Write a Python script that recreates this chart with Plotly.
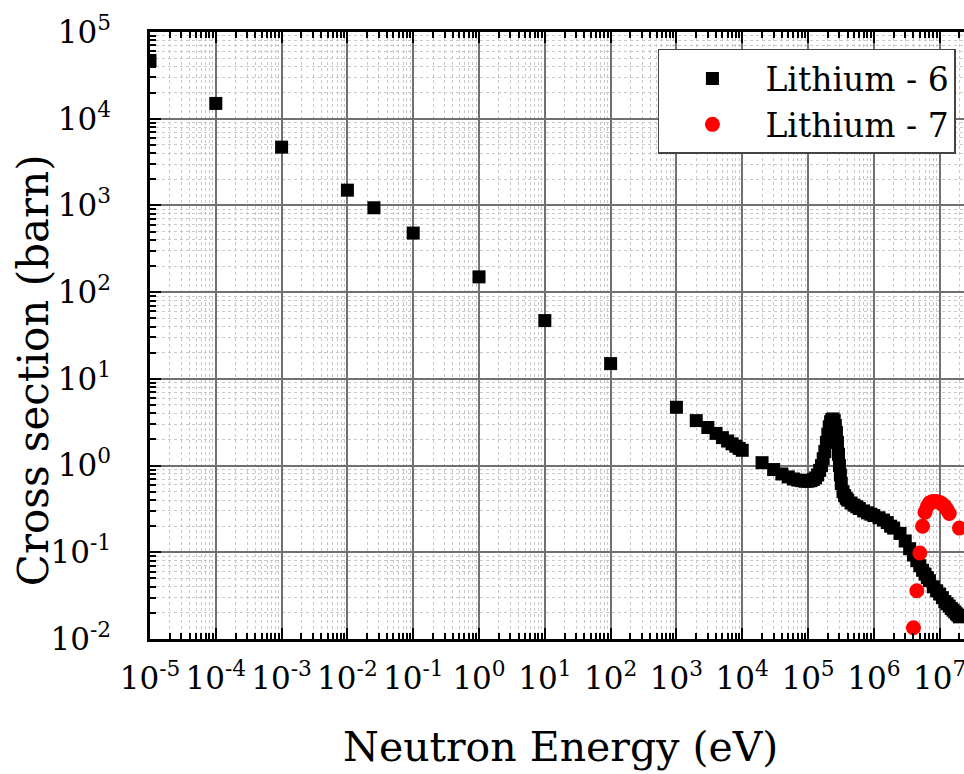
import plotly.graph_objects as go

# Neutron energies (eV) and cross sections (barn)
li6_energy = [
    1e-5, 1e-4, 1e-3, 1e-2, 0.0253, 0.1, 1, 10, 100,
    1e3, 2e3, 3e3, 4e3, 5e3, 6e3, 7e3, 8e3, 9e3, 1e4,
    2e4, 3e4, 4e4, 5e4, 6e4, 7e4, 8e4, 9e4, 1e5,
    1.1e5, 1.2e5, 1.3e5, 1.4e5, 1.5e5, 1.6e5, 1.7e5, 1.8e5, 1.9e5, 2.0e5,
    2.1e5, 2.2e5, 2.3e5, 2.4e5, 2.5e5, 2.6e5, 2.7e5, 2.8e5, 2.9e5, 3.0e5,
    3.1e5, 3.2e5, 3.4e5, 3.6e5, 3.8e5, 4e5, 4.5e5, 5e5, 5.5e5, 6e5, 7e5, 8e5, 9e5, 1e6,
    1.2e6, 1.4e6, 1.6e6, 1.8e6, 2e6, 2.5e6, 3e6, 3.5e6, 4e6, 4.5e6, 5e6, 5.5e6, 6e6,
    6.5e6, 7e6, 8e6, 9e6, 1e7, 1.1e7, 1.2e7, 1.3e7, 1.4e7, 1.5e7, 1.6e7, 1.7e7,
    1.8e7, 1.9e7, 2e7,
]
li6_sigma = [
    47000, 15000, 4700, 1500, 940, 480, 150, 47, 15,
    4.7, 3.3, 2.75, 2.35, 2.1, 1.92, 1.78, 1.67, 1.58, 1.5,
    1.08, 0.9, 0.8, 0.74, 0.7, 0.68, 0.67, 0.66, 0.66,
    0.67, 0.69, 0.72, 0.78, 0.88, 1.0, 1.2, 1.45, 1.85, 2.3,
    2.8, 3.2, 3.4, 3.45, 3.3, 2.9, 2.4, 1.85, 1.35, 1.0,
    0.78, 0.62, 0.5, 0.45, 0.42, 0.4, 0.37, 0.35, 0.335, 0.32, 0.3, 0.285, 0.275, 0.265,
    0.25, 0.235, 0.22, 0.2, 0.19, 0.165, 0.135, 0.11, 0.093, 0.08, 0.07, 0.062, 0.056,
    0.051, 0.047, 0.04, 0.036, 0.033, 0.03, 0.027, 0.0255, 0.024, 0.0225, 0.0215, 0.0205,
    0.0195, 0.0188, 0.018,
]

li7_energy = [4e6, 4.5e6, 5e6, 5.5e6, 6e6, 6.5e6, 7e6, 7.5e6, 8e6, 9e6,
              1e7, 1.1e7, 1.2e7, 1.3e7, 1.4e7, 2e7]
li7_sigma = [0.0135, 0.036, 0.098, 0.2, 0.29, 0.34, 0.37, 0.38, 0.385, 0.385,
             0.375, 0.36, 0.34, 0.31, 0.28, 0.19]

x_tickvals = [1e-5, 1e-4, 1e-3, 1e-2, 1e-1, 1e0, 1e1, 1e2, 1e3, 1e4, 1e5, 1e6, 1e7]
x_ticktext = ["10<sup>-5</sup>", "10<sup>-4</sup>", "10<sup>-3</sup>", "10<sup>-2</sup>",
              "10<sup>-1</sup>", "10<sup>0</sup>", "10<sup>1</sup>", "10<sup>2</sup>",
              "10<sup>3</sup>", "10<sup>4</sup>", "10<sup>5</sup>", "10<sup>6</sup>",
              "10<sup>7</sup>"]
y_tickvals = [1e-2, 1e-1, 1e0, 1e1, 1e2, 1e3, 1e4, 1e5]
y_ticktext = ["10<sup>-2</sup>", "10<sup>-1</sup>", "10<sup>0</sup>", "10<sup>1</sup>",
              "10<sup>2</sup>", "10<sup>3</sup>", "10<sup>4</sup>", "10<sup>5</sup>"]

FONT = "DejaVu Serif"

fig = go.Figure()
fig.add_trace(go.Scatter(
    x=li6_energy, y=li6_sigma, mode="markers", name="Lithium - 6",
    marker=dict(symbol="square", size=13, color="black", line=dict(width=0)),
))
fig.add_trace(go.Scatter(
    x=li7_energy, y=li7_sigma, mode="markers", name="Lithium - 7",
    marker=dict(symbol="circle", size=15, color="#ff0000", line=dict(width=0)),
))

axis_common = dict(
    type="log",
    automargin=False,
    showline=True, linecolor="black", linewidth=2.5,
    ticks="inside", ticklen=11, tickwidth=2, tickcolor="black",
    showgrid=True, gridcolor="#707070", gridwidth=1.5,
    zeroline=False,
    tickfont=dict(family=FONT, size=31, color="black"),
    ticklabeloverflow="allow",
    minor=dict(ticks="inside", ticklen=6, tickwidth=1.5, tickcolor="black",
               showgrid=True, gridcolor="#c8c8c8", gridwidth=1, griddash="dot",
               dtick="D1"),
)

fig.update_xaxes(
    **axis_common,
    range=[-5, 7.37],
    tickmode="array", tickvals=x_tickvals, ticktext=x_ticktext,
    mirror="ticks", ticklabelstandoff=10,
)
fig.update_yaxes(
    **axis_common,
    range=[-2, 5],
    tickmode="array", tickvals=y_tickvals, ticktext=y_ticktext,
    mirror=False, ticklabelstandoff=30,
)

fig.add_annotation(
    text="Neutron Energy (eV)", xref="paper", yref="paper",
    x=0.5037, y=-0.178, xanchor="center", yanchor="middle", showarrow=False,
    font=dict(family=FONT, size=41, color="black"),
)
fig.add_annotation(
    text="Cross section (barn)", xref="paper", yref="paper",
    x=-0.1437, y=0.443, xanchor="center", yanchor="middle", showarrow=False,
    textangle=-90, font=dict(family=FONT, size=42, color="black"),
)

fig.update_layout(
    width=964, height=774,
    font=dict(family=FONT, color="black"),
    margin=dict(l=150, r=0, t=32, b=135, pad=0, autoexpand=False),
    paper_bgcolor="white", plot_bgcolor="white",
    showlegend=True,
    legend=dict(
        x=0.624, y=0.972, xanchor="left", yanchor="top",
        bgcolor="white", bordercolor="#444444", borderwidth=1.5,
        font=dict(family=FONT, size=33, color="black"),
        itemwidth=96, tracegroupgap=0,
        entrywidthmode="pixels", entrywidth=230,
    ),
)

fig.write_html("out.html")
